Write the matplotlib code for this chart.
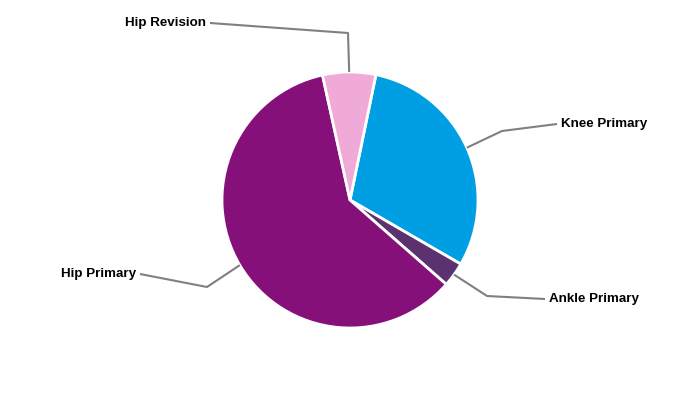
import matplotlib
matplotlib.use("Agg")
import matplotlib.pyplot as plt
import numpy as np

categories = ["Knee Primary", "Ankle Primary", "Hip Primary", "Hip Revision"]
shares = [30.1, 3.1, 60.1, 6.7]
colors = ["#009FE3", "#5B3170", "#86107A", "#F0AAD8"]

# leader line elbows and label anchors (pixel coords, y down)
elbows = [(502, 131), (487, 296), (207, 287), (348, 33)]
label_pts = [(557, 124), (545, 299), (140, 274), (210, 23)]
aligns = ["left", "left", "right", "right"]

cx, cy, r = 350, 200, 128
start = 90 - 11.7

fig = plt.figure(figsize=(7, 4), dpi=100)
ax = fig.add_axes([0, 0, 1, 1])

wedges, _ = ax.pie(shares, colors=colors, startangle=start, counterclock=False,
                   center=(cx, 400 - cy), radius=r,
                   wedgeprops=dict(edgecolor="white", linewidth=2))

for w, el, lp, ha, name in zip(wedges, elbows, label_pts, aligns, categories):
    mid = np.deg2rad((w.theta1 + w.theta2) / 2)
    sx = cx + r * np.cos(mid)
    sy = (400 - cy) + r * np.sin(mid)
    ax.plot([sx, el[0], lp[0]], [sy, 400 - el[1], 400 - lp[1]],
            color="#808080", lw=1.5, solid_capstyle="butt")
    tx = lp[0] + 4 if ha == "left" else lp[0] - 4
    ax.text(tx, 400 - lp[1], name, ha=ha, va="center", fontsize=9.6,
            fontweight="bold", family="Liberation Sans", color="black")

ax.set_xlim(0, 700)
ax.set_ylim(0, 400)
ax.set_aspect("equal")
ax.axis("off")

fig.savefig("out.png", dpi=100, facecolor="white")
